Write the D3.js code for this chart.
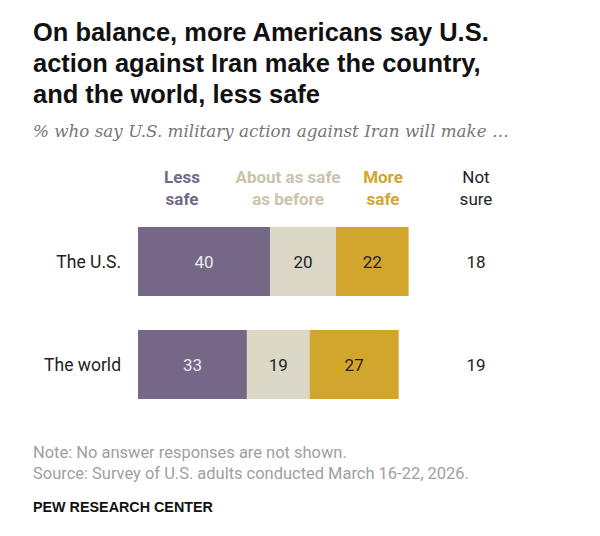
<!DOCTYPE html>
<html>
<head>
<meta charset="utf-8">
<script src="https://cdn.jsdelivr.net/npm/d3@7"></script>
<style>
  body { margin: 0; background: #fff; }
  svg { display: block; }
</style>
</head>
<body>
<script>
// data
var categories = ['The U.S.', 'The world'];
var lessSafe = [40, 33];
var aboutSame = [20, 19];
var moreSafe = [22, 27];
var notSure = [18, 19];

var seriesLabels = [['Less', 'safe'], ['About as safe', 'as before'], ['More', 'safe'], ['Not', 'sure']];
var titleLines = [
    'On balance, more Americans say U.S.',
    'action against Iran make the country,',
    'and the world, less safe'
];
var subtitle = '% who say U.S. military action against Iran will make \u2026';
var notes = [
    'Note: No answer responses are not shown.',
    'Source: Survey of U.S. adults conducted March 16-22, 2026.'
];

var width = 600, height = 536;
var left = 33;
var colors = ['#756886', '#dcd8c8', '#d2a62c'];
var legendColors = ['#756886', '#cbc4aa', '#d2a62c', '#222'];
var sansBold = '"Liberation Sans", Arial, sans-serif';
var sans = 'Roboto, "Liberation Sans", Arial, sans-serif';

var svg = d3.select('body').append('svg')
    .attr('width', width)
    .attr('height', height);

// scale the font of a text selection so one of its lines has the given width
function fitWidth(sel, index, target) {
    var node = sel.nodes()[index];
    var size = parseFloat(sel.style('font-size'));
    var w = node.getComputedTextLength();
    sel.style('font-size', (size * target / w) + 'px');
}

// title
var title = svg.append('g').selectAll('text')
    .data(titleLines)
    .join('text')
    .attr('x', left)
    .attr('y', function(d, i) { return 41 + i * 31; })
    .style('font-family', sansBold)
    .style('font-weight', 700)
    .style('font-size', '22px')
    .style('fill', '#111')
    .text(function(d) { return d; });
fitWidth(title, 1, 448);

var sub = svg.append('text')
    .attr('x', left)
    .attr('y', 137)
    .style('font-family', 'Georgia, "DejaVu Serif", serif')
    .style('font-style', 'italic')
    .style('font-size', '15px')
    .style('fill', '#777')
    .text(subtitle);
fitWidth(sub, 0, 476);

// stack the three answer series
var rows = categories.map(function(c, i) {
    return { cat: c, less: lessSafe[i], same: aboutSame[i], more: moreSafe[i], notSure: notSure[i] };
});
var keys = ['less', 'same', 'more'];
var stacked = d3.stack().keys(keys)(rows);

var xScale = d3.scaleLinear().domain([0, 100]).range([138, 468]);
var yScale = d3.scaleBand().domain(categories).range([227, 399]).paddingInner(0.33);

var layers = svg.append('g').selectAll('g')
    .data(stacked)
    .join('g')
    .attr('fill', function(d, i) { return colors[i]; });

layers.selectAll('rect')
    .data(function(d) { return d; })
    .join('rect')
    .attr('x', function(d) { return xScale(d[0]); })
    .attr('y', function(d) { return yScale(d.data.cat); })
    .attr('width', function(d) { return xScale(d[1]) - xScale(d[0]); })
    .attr('height', yScale.bandwidth());

layers.selectAll('text')
    .data(function(d) { return d; })
    .join('text')
    .attr('x', function(d) { return (xScale(d[0]) + xScale(d[1])) / 2; })
    .attr('y', function(d) { return yScale(d.data.cat) + yScale.bandwidth() / 2; })
    .attr('dy', '0.36em')
    .attr('text-anchor', 'middle')
    .style('font-family', sans)
    .style('font-size', '17px')
    .style('fill', function() {
        return d3.select(this.parentNode).datum().key === 'less' ? '#ece8ef' : '#222';
    })
    .text(function(d) { return d[1] - d[0]; });

// not sure column
var notSureX = 476;
svg.append('g').selectAll('text')
    .data(rows)
    .join('text')
    .attr('x', notSureX)
    .attr('y', function(d) { return yScale(d.cat) + yScale.bandwidth() / 2; })
    .attr('dy', '0.36em')
    .attr('text-anchor', 'middle')
    .style('font-family', sans)
    .style('font-size', '17px')
    .style('fill', '#222')
    .text(function(d) { return d.notSure; });

// row labels
svg.append('g').selectAll('text')
    .data(categories)
    .join('text')
    .attr('x', 121)
    .attr('y', function(d) { return yScale(d) + yScale.bandwidth() / 2; })
    .attr('dy', '0.36em')
    .attr('text-anchor', 'end')
    .style('font-family', sans)
    .style('font-size', '17.5px')
    .style('fill', '#222')
    .text(function(d) { return d; });

// column headers
var legendX = [182, 288, 383, notSureX];
var legend = svg.append('g').selectAll('text')
    .data(seriesLabels)
    .join('text')
    .attr('text-anchor', 'middle')
    .style('font-family', sans)
    .style('font-size', '17px')
    .style('font-weight', function(d, i) { return i < 3 ? 700 : 400; })
    .style('fill', function(d, i) { return legendColors[i]; });

legend.each(function(d, i) {
    d3.select(this).selectAll('tspan')
        .data(d)
        .join('tspan')
        .attr('x', legendX[i])
        .attr('y', function(t, j) { return 183 + j * 22; })
        .text(function(t) { return t; });
});

// footer
var foot = svg.append('g').selectAll('text')
    .data(notes)
    .join('text')
    .attr('x', left)
    .attr('y', function(d, i) { return 458 + i * 21; })
    .style('font-family', sans)
    .style('font-size', '14px')
    .style('fill', '#a0a0a0')
    .text(function(d) { return d; });
fitWidth(foot, 1, 436);

var pew = svg.append('text')
    .attr('x', left)
    .attr('y', 512)
    .style('font-family', sansBold)
    .style('font-weight', 700)
    .style('font-size', '15px')
    .style('fill', '#111')
    .text('PEW RESEARCH CENTER');
fitWidth(pew, 0, 180);
</script>
</body>
</html>
